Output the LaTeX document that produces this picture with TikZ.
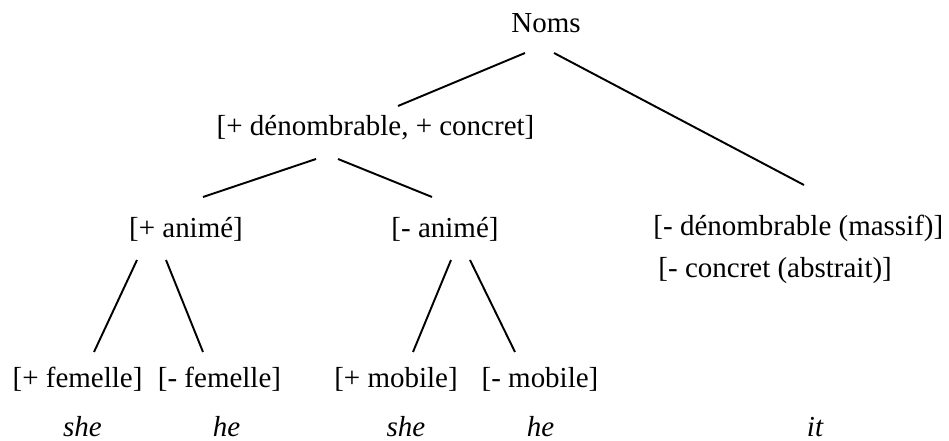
\documentclass[tikz,border=0pt]{standalone}
\usepackage{fontspec}
\setmainfont{Liberation Serif}
\usetikzlibrary{calc}
\begin{document}
\begin{tikzpicture}[x=0.414pt,y=-0.414pt,
  feat/.style={inner sep=0pt,anchor=base,font=\fontsize{12}{14}\selectfont},
  pron/.style={feat,font=\fontsize{12}{14}\selectfont\itshape},
  branch/.style={line width=0.8pt}]
\useasboundingbox (0,0) rectangle (949,441);
% tree labels
\node[feat] (noms) at (546,33) {Noms};
\node[feat] (dc) at (375.5,136) {[+ dénombrable, + concret]};
\node[feat] (pa) at (186,238) {[+ animé]};
\node[feat] (ma) at (445,238) {[- animé]};
\node[feat,anchor=base west] (mdm) at (653,236) {[- dénombrable (massif)]};
\node[feat,anchor=base west] (mca) at (658,278) {[- concret (abstrait)]};
\node[feat] (pf) at (77.5,388) {[+ femelle]};
\node[feat] (mf) at (219.5,388) {[- femelle]};
\node[feat] (pm) at (396,388) {[+ mobile]};
\node[feat] (mm) at (540,388) {[- mobile]};
% pronouns
\node[pron] (she1) at (82.5,437) {she};
\node[pron] (he1) at (226.5,437) {he};
\node[pron] (she2) at (406,437) {she};
\node[pron] (he2) at (540.5,437) {he};
\node[pron] (it) at (815,437) {it};
% branches
\draw[branch] ($(noms.base)+(-21,20)$) -- ($(dc.base)+(22.5,-30)$);
\draw[branch] ($(noms.base)+(8,20)$) -- ($(mdm.base west)+(151,-51)$);
\draw[branch] ($(dc.base)+(-59.5,23)$) -- ($(pa.base)+(17,-41)$);
\draw[branch] ($(dc.base)+(-37.5,23)$) -- ($(ma.base)+(-13,-41)$);
\draw[branch] ($(pa.base)+(-49,22)$) -- ($(pf.base)+(16.5,-36)$);
\draw[branch] ($(pa.base)+(-20,22)$) -- ($(mf.base)+(-16.5,-36)$);
\draw[branch] ($(ma.base)+(6,22)$) -- ($(pm.base)+(17,-36)$);
\draw[branch] ($(ma.base)+(25,22)$) -- ($(mm.base)+(-25,-36)$);
\end{tikzpicture}
\end{document}
